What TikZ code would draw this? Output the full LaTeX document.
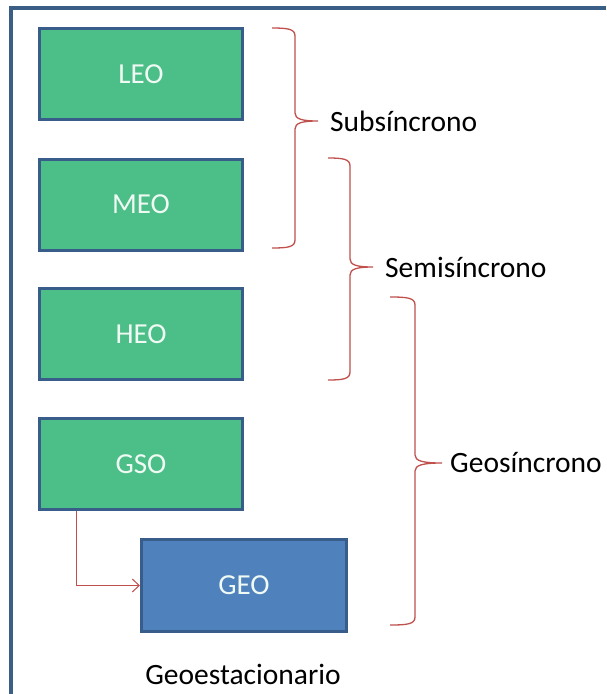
\documentclass[tikz,border=0pt]{standalone}
\usepackage{fontspec}
\setmainfont{Carlito}
\usetikzlibrary{arrows.meta,calc}
\definecolor{boxgreen}{RGB}{76,190,135}
\definecolor{boxblue}{RGB}{79,129,189}
\definecolor{boxedge}{RGB}{56,93,138}
\definecolor{framec}{RGB}{59,94,134}
\definecolor{bracered}{RGB}{192,80,77}
\definecolor{boxtext}{RGB}{240,250,244}
\tikzset{
  orbit/.style={draw=boxedge, line width=3pt, fill=boxgreen, minimum width=203pt, minimum height=91pt, inner sep=0pt, text=boxtext, font=\fontsize{29}{34}\selectfont},
  geobox/.style={orbit, fill=boxblue, minimum width=205pt, minimum height=92pt},
  lbl/.style={anchor=west, inner sep=0pt, text=black, font=\fontsize{29.5}{34}\selectfont},
  bracel/.style={draw=bracered, line width=1.3pt},
  conn/.style={draw=bracered, line width=1pt, -{Straight Barb[length=7pt,width=13pt]}}
}
\begin{document}
\begin{tikzpicture}[x=1pt,y=-1pt]
\useasboundingbox (0,0) rectangle (606,694);
\fill[white] (0,0) rectangle (606,694);
% frame
\draw[framec, line width=3.5pt] (11,694) -- (11,8) -- (606,8);

% boxes
\node[orbit] (LEO) at (141,74) {LEO};
\node[orbit] (MEO) at (141,204.5) {MEO};
\node[orbit] (HEO) at (141,334) {HEO};
\node[orbit] (GSO) at (141,464) {GSO};
\node[geobox] (GEO) at (244,585.5) {GEO};

% connector
\coordinate (gsoout) at ($(GSO.south west)+(38,0)$);
\draw[conn] (gsoout) |- (GEO.west);

% braces
\draw[bracel] (272,28) .. controls (288,28) and (295,29) .. (295,36) -- (295,113)
  .. controls (295,119) and (302,121) .. (318,121)
  .. controls (302,121) and (295,123) .. (295,129) -- (295,240)
  .. controls (295,247) and (288,248) .. (272,248);
\draw[bracel] (328,158) .. controls (343,158) and (350,159) .. (350,166) -- (350,259)
  .. controls (350,265) and (357,267) .. (373,267)
  .. controls (357,267) and (350,269) .. (350,275) -- (350,372)
  .. controls (350,379) and (343,380) .. (328,380);
\draw[bracel] (390,297) .. controls (408,297) and (415,298) .. (415,305) -- (415,455)
  .. controls (415,461) and (423,463) .. (442,463)
  .. controls (423,463) and (415,465) .. (415,471) -- (415,617)
  .. controls (415,624) and (408,625) .. (390,625);

% labels
\node[lbl] (sub) at (330,121) {Subsíncrono};
\node[lbl] (semi) at (385,267) {Semisíncrono};
\node[lbl] (geos) at (450,463) {Geosíncrono};
\node[lbl, anchor=center] (geoest) at (243,674) {Geoestacionario};
\end{tikzpicture}
\end{document}
